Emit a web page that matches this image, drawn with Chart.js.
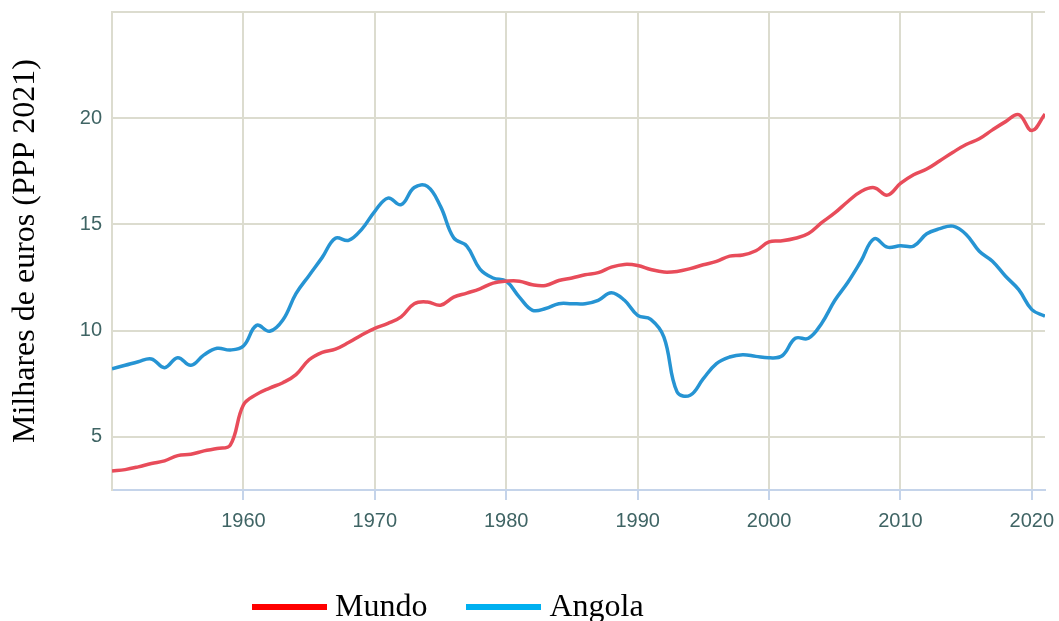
<!DOCTYPE html>
<html>
<head>
<meta charset="utf-8">
<script src="https://cdn.jsdelivr.net/npm/chart.js@4"></script>
<style>
    body { margin: 0; background: #fff; }
    #wrap { position: relative; width: 1059px; height: 621px; }
    #legend {
        position: absolute; left: 252px; top: 588px; height: 34px;
        display: flex; align-items: center;
        font-family: "Liberation Serif", "Times New Roman", serif; font-size: 32px; line-height: 34px; color: #000;
    }
    .item { display: flex; align-items: center; margin-right: 39px; }
    .swatch { width: 75px; height: 6px; margin-right: 8px; margin-top: 4px; }
</style>
</head>
<body>
<div id="wrap">
    <canvas id="chart" width="1059" height="621"></canvas>
    <div id="legend"></div>
</div>
<script>
const years = [1950, 1951, 1952, 1953, 1954, 1955, 1956, 1957, 1958, 1959,
    1960, 1961, 1962, 1963, 1964, 1965, 1966, 1967, 1968, 1969,
    1970, 1971, 1972, 1973, 1974, 1975, 1976, 1977, 1978, 1979,
    1980, 1981, 1982, 1983, 1984, 1985, 1986, 1987, 1988, 1989,
    1990, 1991, 1992, 1993, 1994, 1995, 1996, 1997, 1998, 1999,
    2000, 2001, 2002, 2003, 2004, 2005, 2006, 2007, 2008, 2009,
    2010, 2011, 2012, 2013, 2014, 2015, 2016, 2017, 2018, 2019,
    2020, 2021];

const mundo = [3.39, 3.46, 3.59, 3.75, 3.87, 4.12, 4.18, 4.34, 4.45, 4.61,
    6.5, 7.0, 7.3, 7.55, 7.93, 8.63, 8.98, 9.13, 9.44, 9.8,
    10.11, 10.34, 10.65, 11.27, 11.35, 11.2, 11.58, 11.77, 11.97, 12.24,
    12.33, 12.33, 12.16, 12.13, 12.36, 12.48, 12.63, 12.73, 12.99, 13.12,
    13.07, 12.88, 12.76, 12.79, 12.92, 13.1, 13.26, 13.51, 13.56, 13.76,
    14.18, 14.23, 14.35, 14.57, 15.08, 15.54, 16.08, 16.55, 16.73, 16.38,
    16.93, 17.34, 17.61, 18.0, 18.4, 18.76, 19.03, 19.45, 19.84, 20.17,
    19.42, 20.2];

const angola = [8.21, 8.37, 8.54, 8.67, 8.26, 8.73, 8.37, 8.86, 9.17, 9.09,
    9.28, 10.25, 9.97, 10.5, 11.74, 12.6, 13.45, 14.35, 14.25, 14.77,
    15.62, 16.24, 15.93, 16.74, 16.79, 15.85, 14.37, 13.98, 12.9, 12.48,
    12.33, 11.58, 10.96, 11.04, 11.27, 11.27, 11.27, 11.43, 11.79, 11.43,
    10.72, 10.53, 9.7, 7.12, 6.96, 7.74, 8.45, 8.76, 8.87, 8.79,
    8.72, 8.82, 9.64, 9.64, 10.34, 11.42, 12.28, 13.28, 14.33, 13.93,
    14.0, 13.98, 14.56, 14.8, 14.92, 14.53, 13.74, 13.27, 12.56, 11.93,
    10.99, 10.68];

const xTicks = [1960, 1970, 1980, 1990, 2000, 2010, 2020];
const yTicks = [5, 10, 15, 20, 25];

const seriesNames = ['Mundo', 'Angola'];
const lineColors = ['#e84c5a', '#2694d3'];
const legendColors = ['#ff0000', '#00b0f0'];

const gridColor = '#dcdccf';
const axisBlue = '#c5d4ea';
const tickText = '#3f6464';

function toPoints(values) {
    return values.map((v, i) => ({ x: years[i], y: v }));
}

new Chart(document.getElementById('chart'), {
    type: 'line',
    data: {
        datasets: [mundo, angola].map((vals, i) => ({
            label: seriesNames[i],
            data: toPoints(vals),
            borderColor: lineColors[i],
            borderWidth: 3.5,
            pointRadius: 0,
            tension: 0.4,
            fill: false
        }))
    },
    options: {
        responsive: false,
        animation: false,
        layout: { padding: { left: 0, right: 14, top: 12, bottom: 90 } },
        plugins: {
            legend: { display: false },
            tooltip: { enabled: false }
        },
        scales: {
            x: {
                type: 'linear',
                min: 1950,
                max: 2021,
                afterBuildTicks: axis => { axis.ticks = xTicks.map(v => ({ value: v })); },
                afterFit: scale => {
                    scale.height = 41;
                    scale.paddingLeft = 0;
                    scale.paddingRight = 0;
                },
                grid: { color: gridColor, lineWidth: 2, tickColor: axisBlue, tickLength: 10 },
                border: { color: axisBlue, width: 2 },
                ticks: {
                    color: tickText,
                    padding: 11,
                    maxRotation: 0,
                    font: { family: '"Liberation Sans", Arial, sans-serif', size: 20, lineHeight: 1 },
                    callback: v => String(v)
                }
            },
            y: {
                min: 2.5,
                max: 25,
                afterBuildTicks: axis => { axis.ticks = yTicks.map(v => ({ value: v })); },
                afterFit: scale => {
                    scale.width = 112;
                    scale.paddingTop = 0;
                    scale.paddingBottom = 0;
                },
                grid: { color: gridColor, lineWidth: 2, drawTicks: false },
                border: { color: gridColor, width: 2 },
                ticks: {
                    color: tickText,
                    padding: 10,
                    font: { family: '"Liberation Sans", Arial, sans-serif', size: 20 },
                    callback: v => (v === 25 ? '' : String(v))
                },
                title: {
                    display: true,
                    text: 'Milhares de euros (PPP 2021)',
                    color: '#000',
                    padding: { top: 6, bottom: 0 },
                    font: { family: '"Liberation Serif", "Times New Roman", serif', size: 32 }
                }
            }
        }
    }
});

// legend drawn as html below the plot
const legend = document.getElementById('legend');
seriesNames.forEach((name, i) => {
    const item = document.createElement('div');
    item.className = 'item';
    item.innerHTML = `<span class="swatch" style="background:${legendColors[i]}"></span><span>${name}</span>`;
    legend.appendChild(item);
});
</script>
</body>
</html>
